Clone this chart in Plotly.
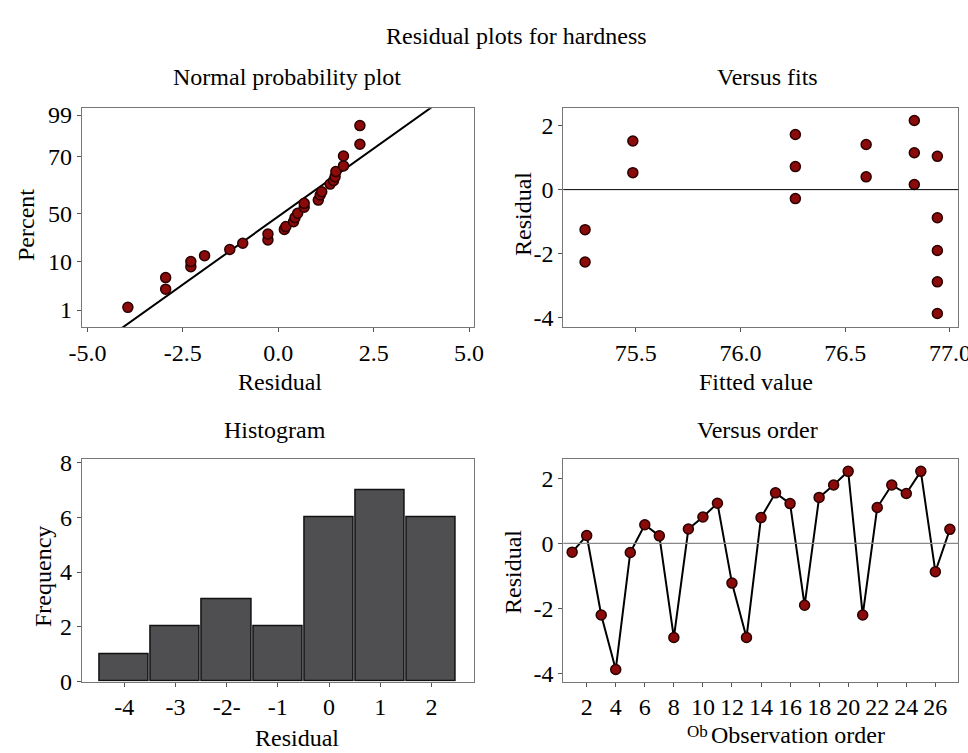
import plotly.graph_objects as go

# ---------------- data ----------------
# Normal probability plot (residual, plotted percent position 0-100 on the plot's scale)
npp_residual = [-3.94, -2.95, -2.95, -2.29, -2.29, -1.93, -1.27, -0.93, -0.27, -0.27,
                0.16, 0.20, 0.40, 0.44, 0.51, 0.68, 0.68, 1.05, 1.10, 1.14,
                1.36, 1.45, 1.49, 1.51, 1.71, 1.71, 2.14, 2.14]
npp_percent = [9.1, 17.4, 22.7, 27.7, 30.0, 32.7, 35.5, 38.4, 39.9, 42.6,
               44.7, 46.0, 48.2, 50.1, 52.1, 54.8, 56.6, 58.1, 60.4, 61.9,
               65.4, 67.0, 68.8, 71.1, 73.7, 78.2, 83.6, 92.1]
npp_tick_pos = [7.9, 30.0, 52.1, 77.9, 96.9]
npp_tick_text = ["1", "10", "50", "70", "99"]
npp_fit_intercept = 50.56
npp_fit_slope = 12.42
npp_x_ticks = [-5, -2.5, 0, 2.5, 5]
npp_x_text = ["-5.0", "-2.5", "0.0", "2.5", "5.0"]

# Versus fits
fits_fitted = [75.258, 75.258, 75.486, 75.486, 76.262, 76.262, 76.262, 76.60, 76.60,
               76.83, 76.83, 76.83, 76.94, 76.94, 76.94, 76.94, 76.94]
fits_residual = [-1.25, -2.26, 1.52, 0.53, 1.72, 0.72, -0.28, 1.41, 0.40,
                 2.16, 1.15, 0.16, 1.04, -0.88, -1.90, -2.88, -3.87]
fits_x_ticks = [75.5, 76.0, 76.5, 77.0]
fits_x_text = ["75.5", "76.0", "76.5", "77.0"]
resid_ticks = [-4, -2, 0, 2]
resid_text = ["-4", "-2", "0", "2"]

# Histogram
hist_bins = [-4, -3, -2, -1, 0, 1, 2]
hist_counts = [1, 2, 3, 2, 6, 7, 6]
hist_tick_text = ["-4", "-3", "-2-", "-1", "0", "1", "2"]
freq_ticks = [0, 2, 4, 6, 8]

# Versus order
order_obs = list(range(1, 28))
order_residual = [-0.27, 0.24, -2.20, -3.87, -0.28, 0.57, 0.23, -2.89, 0.44, 0.81,
                  1.23, -1.22, -2.89, 0.79, 1.55, 1.22, -1.90, 1.41, 1.79, 2.21,
                  -2.20, 1.10, 1.79, 1.53, 2.21, -0.87, 0.43]
order_ticks = list(range(2, 27, 2))

# ---------------- layout helpers ----------------
W, H = 968, 753
FONT = "Liberation Serif"
FS = 24
MARKER = dict(color="#8B0A0A", size=10, line=dict(color="#2a0000", width=1.5))


def dx(a, b):
    return [a / W, b / W]


def dy(top, bottom):
    return [1 - bottom / H, 1 - top / H]


fig = go.Figure()

# 1 normal probability
x_line = [-5.15, 5.13]
fig.add_trace(go.Scatter(x=x_line, y=[npp_fit_intercept + npp_fit_slope * v for v in x_line],
                         mode="lines", line=dict(color="black", width=2),
                         xaxis="x", yaxis="y", showlegend=False, hoverinfo="skip"))
fig.add_trace(go.Scatter(x=npp_residual, y=npp_percent, mode="markers", marker=MARKER,
                         xaxis="x", yaxis="y", showlegend=False))
# 2 versus fits
fig.add_trace(go.Scatter(x=fits_fitted, y=fits_residual, mode="markers", marker=MARKER,
                         xaxis="x2", yaxis="y2", showlegend=False))
# 3 histogram
fig.add_trace(go.Bar(x=hist_bins, y=hist_counts, width=0.96,
                     marker=dict(color="#4f4f52", line=dict(color="#111111", width=1.5)),
                     xaxis="x3", yaxis="y3", showlegend=False))
# 4 versus order
fig.add_trace(go.Scatter(x=order_obs, y=order_residual, mode="lines+markers",
                         line=dict(color="black", width=2), marker=MARKER,
                         xaxis="x4", yaxis="y4", showlegend=False))

tickfont = dict(family=FONT, size=FS, color="black")
common = dict(showgrid=False, zeroline=False, showline=True, mirror=True,
              linecolor="#777777", linewidth=1, ticks="outside", ticklen=4,
              tickcolor="#555555", tickfont=tickfont, automargin=False,
              ticklabeloverflow="allow")

top_row = (108.3, 327.3)
bot_row = (459.3, 681.5)
left_col = (81.7, 474.0)
right_col = (563.3, 958.3)

fig.update_layout(
    width=W, height=H, margin=dict(l=0, r=0, t=0, b=0, autoexpand=False),
    paper_bgcolor="white", plot_bgcolor="white",
    font=dict(family=FONT, size=FS, color="black"),
    bargap=0,
    xaxis=dict(domain=dx(*left_col), anchor="y", range=[-5.15, 5.13],
               tickvals=npp_x_ticks, ticktext=npp_x_text, **common),
    yaxis=dict(domain=dy(*top_row), anchor="x", range=[0, 100],
               tickvals=npp_tick_pos, ticktext=npp_tick_text, **common),
    xaxis2=dict(domain=dx(*right_col), anchor="y2", range=[75.154, 77.04],
                tickvals=fits_x_ticks, ticktext=fits_x_text, **common),
    yaxis2=dict(domain=dy(*top_row), anchor="x2", range=[-4.3, 2.54],
                tickvals=resid_ticks, ticktext=resid_text, **common),
    xaxis3=dict(domain=dx(*left_col), anchor="y3", range=[-4.83, 2.83],
                tickvals=hist_bins, ticktext=hist_tick_text, **common),
    yaxis3=dict(domain=dy(*bot_row), anchor="x3", range=[0, 8.12],
                tickvals=freq_ticks, **common),
    xaxis4=dict(domain=dx(*right_col), anchor="y4", range=[0.39, 27.58],
                tickvals=order_ticks, **common),
    yaxis4=dict(domain=dy(*bot_row), anchor="x4", range=[-4.24, 2.58],
                tickvals=resid_ticks, ticktext=resid_text, **common),
)

# zero reference lines
fig.add_shape(type="line", xref="x2 domain", yref="y2", x0=0, x1=1, y0=0, y1=0,
              line=dict(color="black", width=1))
fig.add_shape(type="line", xref="x4 domain", yref="y4", x0=0, x1=1, y0=0, y1=0,
              line=dict(color="#888888", width=1.2))


def label(text, x, y, size=FS, angle=0):
    fig.add_annotation(text=text, x=x / W, y=1 - y / H, xref="paper", yref="paper",
                       showarrow=False, textangle=angle, xanchor="center", yanchor="middle",
                       font=dict(family=FONT, size=size, color="black"))


label("Residual plots for hardness", 516, 36)
label("Normal probability plot", 287, 77)
label("Versus fits", 767, 77)
label("Histogram", 275, 430)
label("Versus order", 757, 430)
label("Percent", 26, 225, angle=-90)
label("Residual", 280, 382)
label("Residual", 523, 214, angle=-90)
label("Fitted value", 756, 382)
label("Frequency", 43, 577, angle=-90)
label("Residual", 297, 738)
label("Residual", 513, 572, angle=-90)
label("Observation order", 798, 735)
label("Ob", 697, 731, size=17)

fig.write_html("out.html")
